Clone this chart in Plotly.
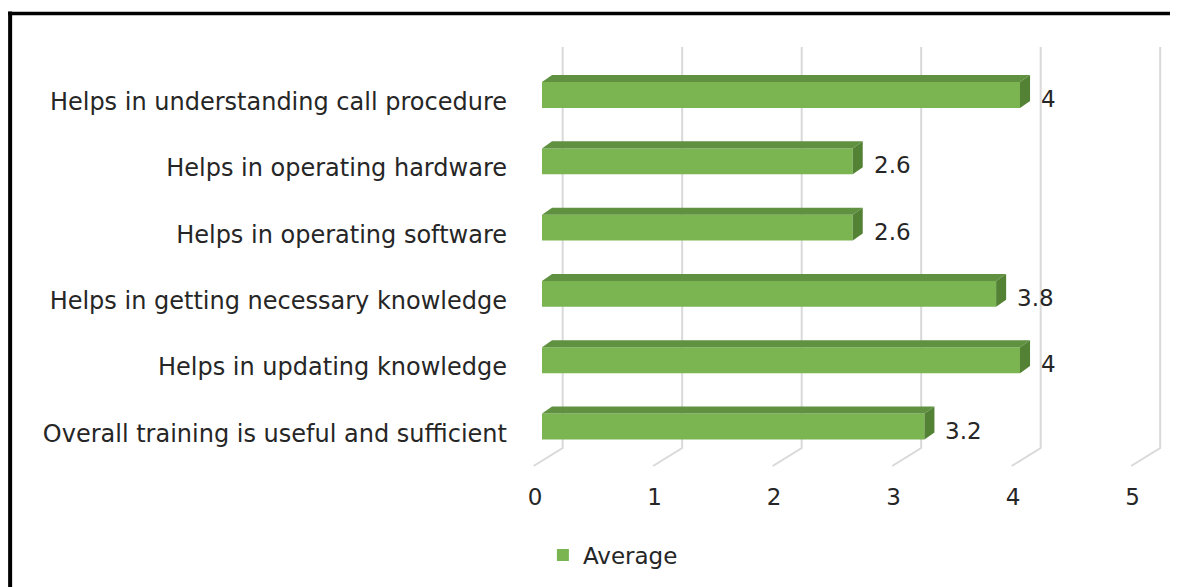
import plotly.graph_objects as go

categories = [
    "Helps in understanding call procedure",
    "Helps in operating hardware",
    "Helps in operating software",
    "Helps in getting necessary knowledge",
    "Helps in updating knowledge",
    "Overall training is useful and sufficient",
]
average = [4, 2.6, 2.6, 3.8, 4, 3.2]
x_ticks = [0, 1, 2, 3, 4, 5]
series_name = "Average"

FRONT = "#7AB552"
TOP = "#5F9140"
SIDE = "#548235"
GRID = "#D9D9D9"
TXT = "#262626"
FONT = "DejaVu Sans"

# geometry (data units)
BAR_W = 0.39
DX = 0.084      # bar depth in x
DY = 0.106      # bar depth in y (upwards)
GRID_BACK = 0.173
GRID_FRONT = -0.07
GRID_TOP = -0.724
GRID_CORNER = 5.324
GRID_BOTTOM = 5.596

ypos = list(range(len(categories)))

fig = go.Figure()
fig.add_trace(go.Bar(
    y=ypos, x=average, orientation="h", name=series_name,
    width=BAR_W, marker=dict(color=FRONT, line=dict(width=0)),
    hoverinfo="x",
))

shapes = []
# slanted back-wall gridlines
for v in x_ticks:
    shapes.append(dict(
        type="path", layer="below", xref="x", yref="y",
        path=f"M {v+GRID_BACK},{GRID_TOP} L {v+GRID_BACK},{GRID_CORNER} L {v+GRID_FRONT},{GRID_BOTTOM}",
        line=dict(color=GRID, width=2),
    ))
# 3D faces of bars
h = BAR_W / 2
for i, v in zip(ypos, average):
    shapes.append(dict(
        type="path", layer="above", xref="x", yref="y",
        path=f"M 0,{i-h} L {v},{i-h} L {v+DX},{i-h-DY} L {DX},{i-h-DY} Z",
        fillcolor=TOP, line=dict(width=0),
    ))
    shapes.append(dict(
        type="path", layer="above", xref="x", yref="y",
        path=f"M {v},{i-h} L {v+DX},{i-h-DY} L {v+DX},{i+h-DY} L {v},{i+h} Z",
        fillcolor=SIDE, line=dict(width=0),
    ))
# frame border (top and left)
shapes.append(dict(type="line", xref="paper", yref="paper",
                   x0=-0.809, x1=1.1, y0=1.0616, y1=1.0616,
                   line=dict(color="black", width=3.5)))
shapes.append(dict(type="line", xref="paper", yref="paper",
                   x0=-0.806, x1=-0.806, y0=1.066, y1=-0.3,
                   line=dict(color="black", width=4)))

annotations = []
for i, v in zip(ypos, average):
    annotations.append(dict(
        x=v + DX, y=i, xref="x", yref="y", text=f"{v:g}",
        showarrow=False, xanchor="left", yanchor="middle",
        xshift=9, yshift=-4, font=dict(family=FONT, size=23, color=TXT),
    ))

fig.update_layout(
    width=1170, height=579,
    margin=dict(l=522, r=3, t=32, b=117),
    paper_bgcolor="white", plot_bgcolor="white",
    shapes=shapes, annotations=annotations,
    showlegend=True,
    legend=dict(orientation="h", x=0.02, xanchor="left", y=-0.198, yanchor="middle",
                font=dict(family=FONT, size=23, color=TXT), bgcolor="rgba(0,0,0,0)"),
    xaxis=dict(range=[-0.1004, 5.297], tickvals=x_ticks, ticktext=[str(t) for t in x_ticks],
               showgrid=False, zeroline=False, showline=False, ticks="",
               ticklabelstandoff=11, ticklabelshift=-7,
               tickfont=dict(family=FONT, size=23, color=TXT)),
    yaxis=dict(range=[5.656, -0.83], tickvals=[i + 0.1 for i in ypos], ticktext=categories,
               showgrid=False, zeroline=False, showline=False, ticks="",
               ticklabelstandoff=22,
               tickfont=dict(family=FONT, size=24, color=TXT)),
    bargap=0.6,
)

fig.write_html("out.html")
